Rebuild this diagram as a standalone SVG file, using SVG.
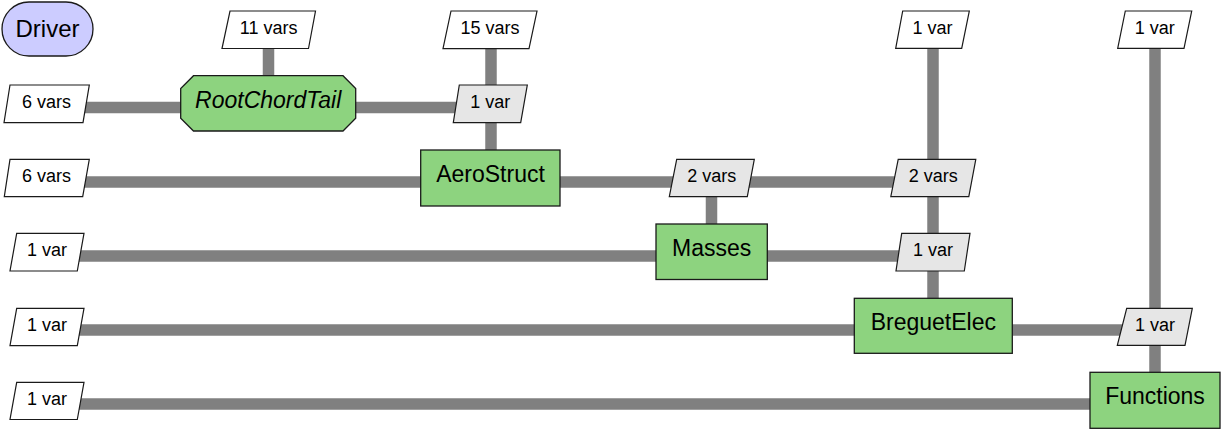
<svg xmlns="http://www.w3.org/2000/svg" width="1225" height="429" viewBox="0 0 1225 429">
  <style>
    .line { stroke: #808080; stroke-width: 11.5; fill: none; stroke-linecap: butt; }
    .func { fill: #8DD37F; stroke: #1a1a1a; stroke-width: 1.3; }
    .opt { fill: #CCCCFF; stroke: #1a1a1a; stroke-width: 1.3; }
    .io { fill: #FFFFFF; stroke: #1a1a1a; stroke-width: 1.2; }
    .inter { fill: #E6E6E6; stroke: #1a1a1a; stroke-width: 1.2; }
    .lbl { font-family: "Liberation Sans", Arial, sans-serif; font-size: 23px; fill: #000; text-anchor: middle; }
    .dat { font-family: "Liberation Sans", Arial, sans-serif; font-size: 18px; fill: #000; text-anchor: middle; }
    .it { font-style: italic; }
  </style>

  <!-- data connections (drawn under the nodes) -->
  <g id="connectors">
    <!-- horizontal -->
    <line class="line" x1="47" y1="107.5" x2="491" y2="107.5"/>
    <line class="line" x1="47" y1="182" x2="933" y2="182"/>
    <line class="line" x1="47" y1="256" x2="933" y2="256"/>
    <line class="line" x1="47" y1="330" x2="1155" y2="330"/>
    <line class="line" x1="47" y1="404" x2="1155" y2="404"/>
    <!-- vertical -->
    <line class="line" x1="268.5" y1="30" x2="268.5" y2="100"/>
    <line class="line" x1="491" y1="30" x2="491" y2="182"/>
    <line class="line" x1="711.5" y1="182" x2="711.5" y2="256"/>
    <line class="line" x1="933" y1="30" x2="933" y2="330"/>
    <line class="line" x1="1155" y1="30" x2="1155" y2="404"/>
  </g>

  <!-- driver -->
  <g id="driver">
    <rect class="opt" x="2" y="2" width="91" height="54" rx="27" ry="27"/>
    <text class="lbl" x="47.5" y="37" style="font-size:24px">Driver</text>
  </g>

  <!-- disciplines -->
  <g id="rootchordtail">
    <polygon class="func" points="193.5,75.7 343,75.7 355.7,88.5 355.7,118.3 343,131 193.5,131 180.7,118.3 180.7,88.5"/>
    <text class="lbl it" x="268.2" y="107.7">RootChordTail</text>
  </g>
  <g id="aerostruct">
    <rect class="func" x="420.7" y="150" width="139.3" height="56"/>
    <text class="lbl" x="490.5" y="181.7">AeroStruct</text>
  </g>
  <g id="masses">
    <rect class="func" x="656" y="224" width="111.3" height="55.5"/>
    <text class="lbl" x="711.7" y="256">Masses</text>
  </g>
  <g id="breguetelec">
    <rect class="func" x="854.3" y="298.3" width="158" height="55"/>
    <text class="lbl" x="933.3" y="330">BreguetElec</text>
  </g>
  <g id="functions">
    <rect class="func" x="1090" y="372.3" width="130" height="56"/>
    <text class="lbl" x="1155" y="404">Functions</text>
  </g>

  <!-- external inputs / outputs (top row) -->
  <g id="in_rootchordtail">
    <polygon class="io" points="230,11 315.5,11 308.5,48.5 222,48.5"/>
    <text class="dat" x="268.7" y="33.5">11 vars</text>
  </g>
  <g id="in_aerostruct">
    <polygon class="io" points="451,11 537,11 529,48.7 443,48.7"/>
    <text class="dat" x="490" y="33.5">15 vars</text>
  </g>
  <g id="in_breguetelec">
    <polygon class="io" points="902.7,11 969.3,11 961.7,48.3 895.7,48.3"/>
    <text class="dat" x="932.5" y="33.5">1 var</text>
  </g>
  <g id="in_functions">
    <polygon class="io" points="1125.3,11 1191.7,11 1184,48.3 1117.7,48.3"/>
    <text class="dat" x="1154.8" y="33.5">1 var</text>
  </g>

  <!-- external inputs / outputs (left column) -->
  <g id="out_rootchordtail">
    <polygon class="io" points="10,85 89.3,85 83,122.7 4,122.7"/>
    <text class="dat" x="46.6" y="108">6 vars</text>
  </g>
  <g id="out_aerostruct">
    <polygon class="io" points="10,159.3 89.3,159.3 82.7,196.7 4.3,196.7"/>
    <text class="dat" x="46.6" y="182">6 vars</text>
  </g>
  <g id="out_masses">
    <polygon class="io" points="16.7,233.3 84,233.3 77.3,271 10,271"/>
    <text class="dat" x="47" y="256">1 var</text>
  </g>
  <g id="out_breguetelec">
    <polygon class="io" points="16.7,308.3 84,308.3 77.3,345.7 10,345.7"/>
    <text class="dat" x="47" y="330.5">1 var</text>
  </g>
  <g id="out_functions">
    <polygon class="io" points="16.7,382.3 84,382.3 77.3,419.5 10,419.5"/>
    <text class="dat" x="47" y="404.5">1 var</text>
  </g>

  <!-- coupling variables between disciplines -->
  <g id="rootchordtail_aerostruct">
    <polygon class="inter" points="459.3,85 527.3,85 520.7,122.7 453.3,122.7"/>
    <text class="dat" x="490.2" y="108">1 var</text>
  </g>
  <g id="aerostruct_masses">
    <polygon class="inter" points="676.7,159.3 754.3,159.3 747.3,196.7 669.3,196.7"/>
    <text class="dat" x="711.8" y="182">2 vars</text>
  </g>
  <g id="aerostruct_breguetelec">
    <polygon class="inter" points="898.2,159.3 975.8,159.3 968.8,196.7 890.8,196.7"/>
    <text class="dat" x="933.3" y="182">2 vars</text>
  </g>
  <g id="masses_breguetelec">
    <polygon class="inter" points="901.7,233.3 970,233.3 964.3,271 896,271"/>
    <text class="dat" x="933" y="256">1 var</text>
  </g>
  <g id="breguetelec_functions">
    <polygon class="inter" points="1126.7,308.3 1192.3,308.3 1185,345.3 1117.3,345.3"/>
    <text class="dat" x="1155" y="330.5">1 var</text>
  </g>
</svg>
